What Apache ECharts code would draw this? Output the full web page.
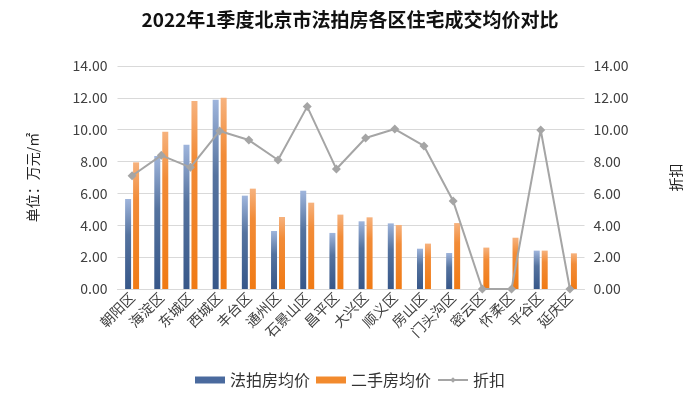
<!DOCTYPE html>
<html>
<head>
<meta charset="utf-8">
<script src="https://cdn.jsdelivr.net/npm/echarts@6/dist/echarts.min.js"></script>
<style>html,body{margin:0;padding:0;background:#fff;}#c{width:700px;height:395px;}</style>
</head>
<body>
<div id="c"></div>
<script>
const titleText = '2022年1季度北京市法拍房各区住宅成交均价对比';
const categories = ['朝阳区','海淀区','东城区','西城区','丰台区','通州区','石景山区','昌平区','大兴区','顺义区','房山区','门头沟区','密云区','怀柔区','平谷区','延庆区'];
const auctionPrice = [5.65, 8.35, 9.06, 11.88, 5.86, 3.64, 6.17, 3.52, 4.25, 4.12, 2.53, 2.26, 0, 0, 2.41, 0];
const resalePrice = [7.95, 9.88, 11.8, 12.01, 6.30, 4.52, 5.42, 4.67, 4.50, 4.02, 2.85, 4.14, 2.60, 3.22, 2.41, 2.24];
const discount = [7.11, 8.39, 7.64, 9.92, 9.35, 8.10, 11.45, 7.53, 9.48, 10.04, 8.98, 5.52, 0, 0, 9.98, 0];
const seriesNames = ['法拍房均价', '二手房均价', '折扣'];
const leftAxisName = '单位：万元/㎡';
const rightAxisName = '折扣';

const font = '"Noto Sans CJK SC", "Noto Sans", sans-serif';
const chart = echarts.init(document.getElementById('c'), null, {renderer: 'canvas'});
const blueGrad = new echarts.graphic.LinearGradient(0, 0, 0, 1, [
  {offset: 0, color: '#9fb5dc'}, {offset: 0.4, color: '#55739f'}, {offset: 1, color: '#375789'}]);
const orangeGrad = new echarts.graphic.LinearGradient(0, 0, 0, 1, [
  {offset: 0, color: '#f6b27e'}, {offset: 0.3, color: '#f28c38'}, {offset: 1, color: '#f07a14'}]);
const axisLabelStyle = {color: '#404040', fontSize: 14, fontFamily: font};
chart.setOption({
  animation: false,
  textStyle: {fontFamily: font},
  title: {
    text: titleText, left: 'center', top: 5,
    textStyle: {fontSize: 19, fontWeight: 'bold', color: '#111', fontFamily: font}
  },
  grid: {left: 117.5, right: 115.5, top: 66, bottom: 106},
  legend: {
    bottom: 2, left: 'center', itemWidth: 30, itemHeight: 7, itemGap: 6,
    textStyle: {fontSize: 16, color: '#333', fontFamily: font},
    data: [
      {name: seriesNames[0], icon: 'rect', itemStyle: {color: '#4a6a9e'}},
      {name: seriesNames[1], icon: 'rect', itemStyle: {color: '#f28a2e'}},
      {name: seriesNames[2]}
    ]
  },
  xAxis: {
    type: 'category', data: categories,
    axisLine: {lineStyle: {color: '#d9d9d9', width: 1}},
    axisTick: {show: false},
    axisLabel: {rotate: 45, interval: 0, margin: 6, ...axisLabelStyle}
  },
  yAxis: [
    {
      type: 'value', min: 0, max: 14, interval: 2,
      name: leftAxisName, nameLocation: 'middle', nameRotate: 90, nameGap: 78,
      nameTextStyle: {fontSize: 14, color: '#222', fontFamily: font},
      axisLabel: {formatter: v => v.toFixed(2), margin: 10, ...axisLabelStyle},
      splitLine: {lineStyle: {color: '#d9d9d9', width: 1}},
      axisLine: {show: false}, axisTick: {show: false}
    },
    {
      type: 'value', min: 0, max: 14, interval: 2,
      name: rightAxisName, nameLocation: 'middle', nameRotate: 90, nameGap: 84,
      nameTextStyle: {fontSize: 14, color: '#222', fontFamily: font},
      axisLabel: {formatter: v => v.toFixed(2), margin: 9, ...axisLabelStyle},
      splitLine: {show: false},
      axisLine: {show: false}, axisTick: {show: false}
    }
  ],
  series: [
    {
      name: seriesNames[0], type: 'bar', data: auctionPrice,
      barWidth: 6, barGap: '33%',
      itemStyle: {color: blueGrad}
    },
    {
      name: seriesNames[1], type: 'bar', data: resalePrice,
      barWidth: 6, barGap: '33%',
      itemStyle: {color: orangeGrad}
    },
    {
      name: seriesNames[2], type: 'line', yAxisIndex: 1, data: discount,
      symbol: 'diamond', symbolSize: 9,
      lineStyle: {color: '#a5a5a5', width: 2},
      itemStyle: {color: '#a5a5a5'}
    }
  ]
});
</script>
</body>
</html>
